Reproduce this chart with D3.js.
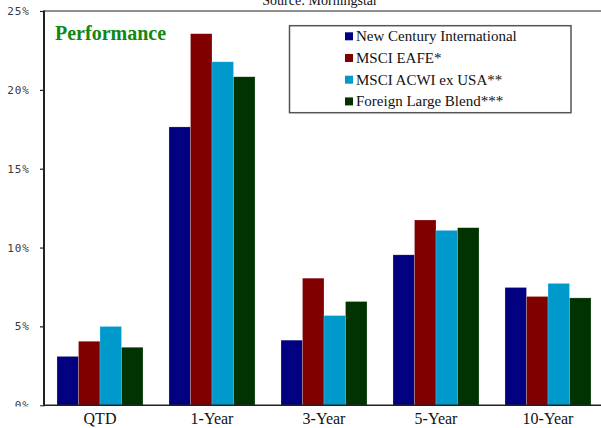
<!DOCTYPE html>
<html><head><meta charset="utf-8">
<script src="https://cdn.jsdelivr.net/npm/d3@7"></script>
<style>body{margin:0;background:#fff}svg{display:block}</style>
</head><body>
<svg id="c" width="601" height="428"></svg>
<script>
const categories = ["QTD", "1-Year", "3-Year", "5-Year", "10-Year"];
const seriesNames = ["New Century International", "MSCI EAFE*", "MSCI ACWI ex USA**", "Foreign Large Blend***"];
const newCentury = [3.1, 17.65, 4.13, 9.54, 7.47];
const msciEafe = [4.06, 23.56, 8.06, 11.75, 6.9];
const msciAcwi = [5.0, 21.78, 5.69, 11.09, 7.73];
const foreignLargeBlend = [3.68, 20.83, 6.58, 11.26, 6.81];
const yTicks = [0, 5, 10, 15, 20, 25];
const colors = ["#000080", "#800000", "#0099CC", "#003300"];

(function () {
const seriesValues = [newCentury, msciEafe, msciAcwi, foreignLargeBlend];
const svg = d3.select("#c");
const pLeft = 44, pRight = 604, pTop = 11, pBottom = 405.3;

const x = d3.scaleBand().domain(categories).range([pLeft, pRight]).paddingInner(0.232).paddingOuter(0.116);
const xs = d3.scaleBand().domain(d3.range(seriesNames.length)).range([0, x.bandwidth()]);
const y = d3.scaleLinear().domain([0, 25]).range([pBottom, pTop]);

svg.append("text").attr("x", 320).attr("y", 4.5).attr("text-anchor", "middle")
  .attr("font-family", "Liberation Serif").attr("font-size", 14).attr("fill", "#111")
  .text("Source:  Morningstar");

svg.append("line").attr("x1", pLeft).attr("x2", 601).attr("y1", pTop).attr("y2", pTop)
  .attr("stroke", "#222").attr("stroke-width", 1.2);

const data = [];
categories.forEach((c, i) => seriesValues.forEach((s, j) => data.push({c, j, v: s[i]})));
svg.append("g").selectAll("rect").data(data).join("rect")
  .attr("x", d => x(d.c) + xs(d.j))
  .attr("width", xs.bandwidth())
  .attr("y", d => y(d.v))
  .attr("height", d => y(0) - y(d.v))
  .attr("fill", d => colors[d.j])
  .attr("stroke", "rgba(255,255,255,0.35)").attr("stroke-width", 0.6);

svg.append("defs").append("clipPath").attr("id", "yclip")
  .append("rect").attr("x", -60).attr("y", 0).attr("width", 60).attr("height", 406.5);
const ya = svg.append("g").attr("transform", `translate(${pLeft},0)`).attr("clip-path", "url(#yclip)")
  .call(d3.axisLeft(y).tickValues(yTicks).tickSize(4).tickPadding(8).tickFormat(d => d + "%"));
ya.select(".domain").remove();
ya.selectAll(".tick line").attr("stroke", "#222").attr("stroke-width", 1.2);
ya.selectAll(".tick text").attr("font-family", "DejaVu Sans Mono").attr("font-size", 11)
  .attr("letter-spacing", 1).attr("fill", "#3a3a3a").attr("x", -14);
svg.append("line").attr("x1", pLeft).attr("x2", pLeft).attr("y1", pTop - 0.6).attr("y2", pBottom + 1)
  .attr("stroke", "#222").attr("stroke-width", 2);

svg.append("line").attr("x1", pLeft - 1).attr("x2", 601).attr("y1", pBottom).attr("y2", pBottom)
  .attr("stroke", "#222").attr("stroke-width", 1.6);
const xa = svg.append("g").attr("transform", `translate(0,${pBottom})`)
  .call(d3.axisBottom(x).tickSize(0).tickPadding(0));
xa.select(".domain").remove();
xa.selectAll(".tick text").attr("font-family", "Liberation Serif").attr("font-size", 16)
  .attr("fill", "#111").attr("dy", 0).attr("y", 18.5);

svg.append("text").attr("x", 55).attr("y", 40).attr("font-family", "Liberation Serif")
  .attr("font-weight", "bold").attr("font-size", 20).attr("fill", "#118811").text("Performance");

const lg = svg.append("g");
lg.append("rect").attr("x", 289.5).attr("y", 25.7).attr("width", 281.5).attr("height", 87)
  .attr("fill", "#fff").attr("stroke", "#555").attr("stroke-width", 1.5);
const items = lg.selectAll("g.it").data(seriesNames).join("g").attr("class", "it")
  .attr("transform", (d, i) => `translate(345,${32.3 + i * 21.7})`);
items.append("rect").attr("width", 8).attr("height", 8).attr("fill", (d, i) => colors[i]);
items.append("text").attr("x", 11).attr("y", 8.8).attr("font-family", "Liberation Serif")
  .attr("font-size", 15).attr("fill", "#111").text(d => d);
})();
</script>
</body></html>
